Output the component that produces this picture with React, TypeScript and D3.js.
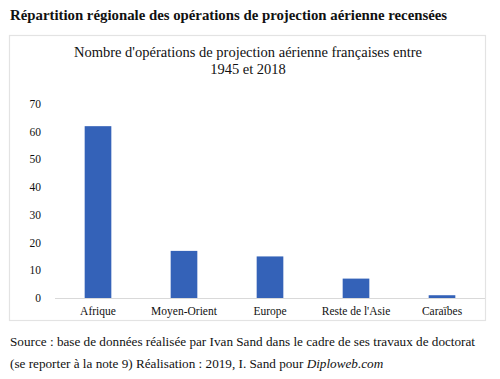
import React from "react";
import * as d3 from "d3";

const categories = ["Afrique", "Moyen-Orient", "Europe", "Reste de l'Asie", "Caraïbes"];
const values = [62, 17, 15, 7, 1];
const yTicks = [0, 10, 20, 30, 40, 50, 60, 70];

export default function App() {
  const W = 500, H = 379;
  const x = d3.scaleBand<string>().domain(categories).range([55, 485]).paddingInner(0.69).paddingOuter(0.345);
  const y = d3.scaleLinear().domain([0, 70]).range([298, 104]);
  const font = "'Liberation Serif', 'Times New Roman', serif";
  return (
    <svg width={W} height={H} style={{ position: "absolute", left: 0, top: 0, background: "#fff" }} fontFamily={font}>
      <text x={10} y={20} fontSize={14.8} fontWeight="bold" fill="#111">Répartition régionale des opérations de projection aérienne recensées</text>
      <rect x={9.5} y={35.5} width={476} height={285} fill="#fff" stroke="#e3e3e3" strokeWidth={1.2} />
      <text x={248} y={57} fontSize={14.5} textAnchor="middle" fill="#111">Nombre d'opérations de projection aérienne françaises entre</text>
      <text x={248} y={74} fontSize={14.5} textAnchor="middle" fill="#111">1945 et 2018</text>
      {yTicks.map(t => (
        <text key={t} x={41} y={y(t)} dy="0.35em" fontSize={11.5} textAnchor="end" fill="#111">{t}</text>
      ))}
      {categories.map((c, i) => (
        <rect key={c} x={x(c)} y={y(values[i])} width={x.bandwidth()} height={y(0) - y(values[i])} fill="#3462b8" />
      ))}
      <line x1={55} x2={485} y1={y(0) + 0.5} y2={y(0) + 0.5} stroke="#d9d9d9" strokeWidth={1} />
      {categories.map(c => (
        <text key={c} x={(x(c) as number) + x.bandwidth() / 2} y={315} fontSize={11.5} textAnchor="middle" fill="#111">{c}</text>
      ))}
      <text x={10} y={346} fontSize={13.2} fill="#111">Source : base de données réalisée par Ivan Sand dans le cadre de ses travaux de doctorat</text>
      <text x={10} y={368} fontSize={13.2} fill="#111">(se reporter à la note 9) Réalisation : 2019, I. Sand pour <tspan fontStyle="italic">Diploweb.com</tspan></text>
    </svg>
  );
}
